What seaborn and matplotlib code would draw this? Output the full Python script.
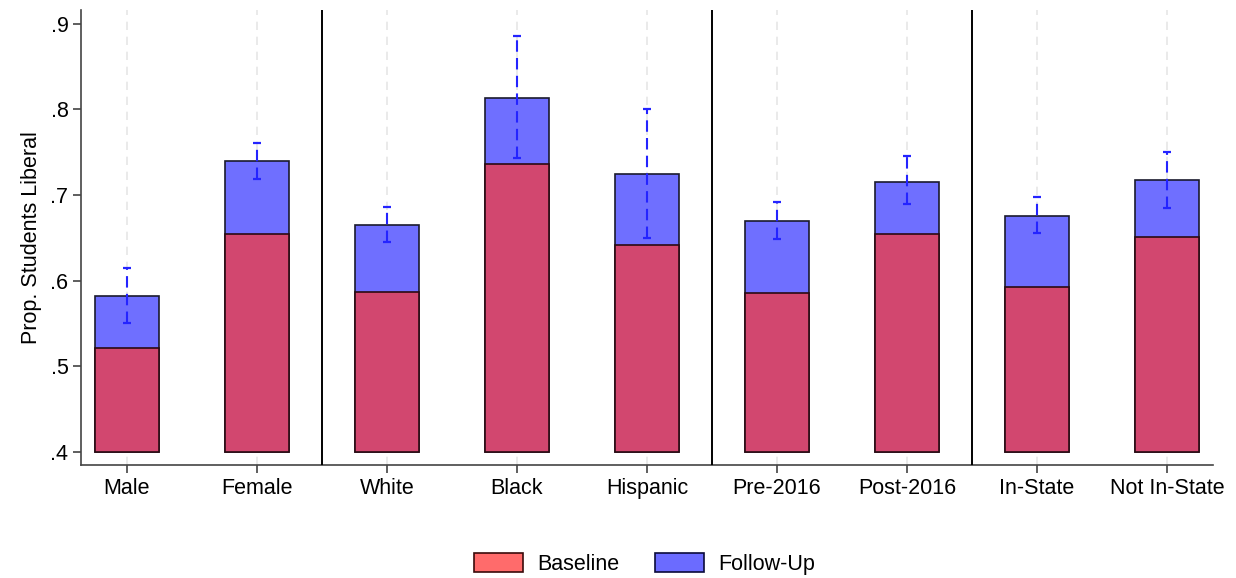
import numpy as np
import pandas as pd
import matplotlib
matplotlib.use("Agg")
import matplotlib.pyplot as plt
from matplotlib.patches import Patch
import seaborn as sns

# Groups shown along the x axis
categories = ["Male", "Female", "White", "Black", "Hispanic",
              "Pre-2016", "Post-2016", "In-State", "Not In-State"]

# Share of students identifying as liberal
baseline = [0.521, 0.654, 0.587, 0.736, 0.642, 0.585, 0.654, 0.593, 0.651]
follow_up = [0.582, 0.739, 0.665, 0.813, 0.724, 0.670, 0.715, 0.675, 0.717]

# 95% confidence interval for the follow-up share
ci_low = [0.551, 0.719, 0.645, 0.743, 0.650, 0.649, 0.689, 0.655, 0.685]
ci_high = [0.615, 0.760, 0.686, 0.886, 0.800, 0.692, 0.745, 0.697, 0.750]

# Boundaries between groups of categories
group_breaks = [1.5, 4.5, 6.5]

y_ticks = [0.4, 0.5, 0.6, 0.7, 0.8, 0.9]
y_tick_labels = [".4", ".5", ".6", ".7", ".8", ".9"]

sns.set_style("white")
plt.rcParams["font.family"] = ["Liberation Sans", "DejaVu Sans"]
plt.rcParams["text.color"] = "black"
plt.rcParams["axes.labelcolor"] = "black"
plt.rcParams["xtick.color"] = "black"
plt.rcParams["ytick.color"] = "black"

fig, ax = plt.subplots(figsize=(12.36, 5.78), dpi=100)
fig.subplots_adjust(left=0.0655, right=0.9814, top=0.983, bottom=0.1955)

base_floor = 0.4
df = pd.DataFrame({"group": categories, "baseline": baseline,
                   "follow_up": follow_up})

blue_fill = "#6F6FFF"
red_fill = "#D2476F"

# Follow-up bars first, baseline drawn over them
sns.barplot(data=df, x="group", y="follow_up", order=categories,
            color=blue_fill, saturation=1, width=0.485,
            edgecolor="#1a1a2e", linewidth=1.2, ax=ax, zorder=2)
sns.barplot(data=df, x="group", y="baseline", order=categories,
            color=red_fill, saturation=1, width=0.485,
            edgecolor="#2a0a12", linewidth=1.2, ax=ax, zorder=3)

# Bars start at the floor of the axis rather than zero
for p in ax.patches:
    top = p.get_y() + p.get_height()
    p.set_y(base_floor)
    p.set_height(top - base_floor)

xs = np.arange(len(categories))
follow_arr = np.array(follow_up)
err = np.vstack([follow_arr - np.array(ci_low), np.array(ci_high) - follow_arr])
eb = ax.errorbar(xs, follow_arr, yerr=err, fmt="none", ecolor="#2424FF",
                 elinewidth=1.5, capsize=2.6, capthick=1.6, zorder=5)
for lc in eb[2]:
    lc.set_linestyle((0, (5.5, 3)))

# Light dashed guides at each category
for x in xs:
    ax.axvline(x, color="#e6e6e6", lw=1.2, ls=(0, (5, 4)), zorder=0)

for b in group_breaks:
    ax.axvline(b, color="black", lw=1.4, zorder=4)

ax.set_xlim(-0.354, 8.354)
ax.set_ylim(0.3848, 0.916)
ax.set_yticks(y_ticks)
ax.set_yticklabels(y_tick_labels)
ax.set_xlabel("")
ax.set_ylabel("Prop. Students Liberal", fontsize=15.5, labelpad=6)

ax.tick_params(axis="both", which="major", labelsize=15.5, length=6,
               width=1.1, color="#333333", labelcolor="black",
               bottom=True, left=True)
ax.tick_params(axis="y", pad=3)
ax.tick_params(axis="x", pad=3)

sns.despine(ax=ax, top=True, right=True)
for side in ("left", "bottom"):
    ax.spines[side].set_color("#444444")
    ax.spines[side].set_linewidth(1.2)

handles = [
    Patch(facecolor="#FF6B6B", edgecolor="#3a0a0a", linewidth=1.2, label="Baseline"),
    Patch(facecolor="#6B6BFF", edgecolor="#0a0a3a", linewidth=1.2, label="Follow-Up"),
]
fig.legend(handles=handles, loc="center", bbox_to_anchor=(0.5215, 0.025),
           ncol=2, frameon=False, fontsize=15.5, handlelength=2.25,
           handleheight=1.0, columnspacing=1.7, handletextpad=0.65)

fig.savefig("out.png", dpi=100)
